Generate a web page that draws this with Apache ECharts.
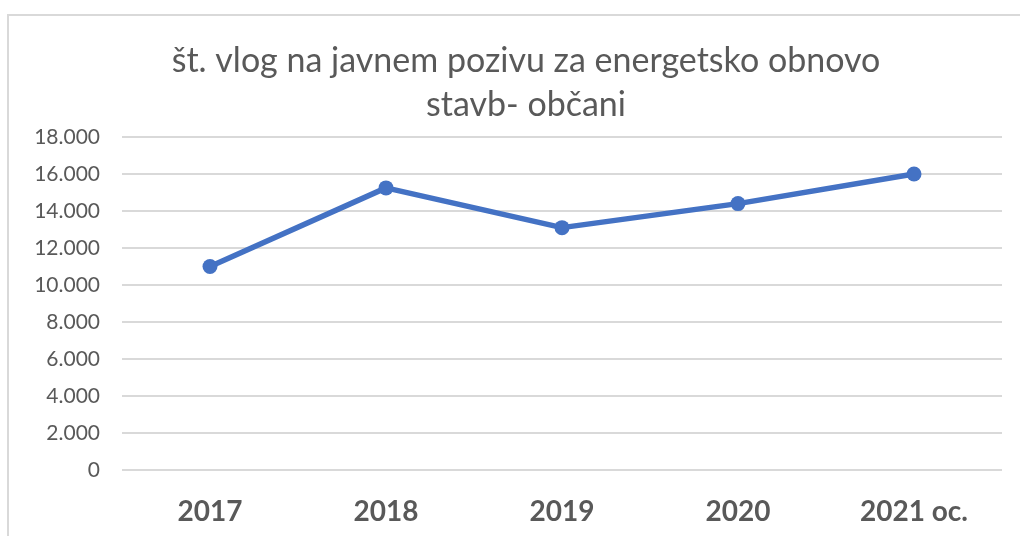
<!DOCTYPE html>
<html>
<head>
<meta charset="utf-8">
<script src="https://cdn.jsdelivr.net/npm/echarts@6/dist/echarts.min.js"></script>
<style>
  html, body { margin: 0; padding: 0; background: #fff; }
  #chart { width: 1020px; height: 536px; }
</style>
</head>
<body>
<div id="chart"></div>
<script>
// podatki
const years = ['2017', '2018', '2019', '2020', '2021 oc.'];
const applications = [11000, 15250, 13100, 14400, 16000];
const titleText = 'št. vlog na javnem pozivu za energetsko obnovo\nstavb- občani';

const font = 'Lato, "Open Sans", sans-serif';
const grey = '#595959';

const chart = echarts.init(document.getElementById('chart'));

chart.setOption({
  backgroundColor: '#fff',
  animation: false,
  title: {
    text: titleText,
    left: 521,
    textAlign: 'center',
    top: 34,
    textStyle: { fontFamily: font, fontSize: 34, fontWeight: 'normal', color: grey, lineHeight: 44 },
  },
  graphic: [{
    type: 'rect',
    shape: { x: 8, y: 15, width: 1100, height: 600 },
    style: { fill: 'none', stroke: '#d9d9d9', lineWidth: 2 },
    silent: true,
  }],
  grid: { left: 122, right: 18, top: 137, bottom: 66 },
  xAxis: {
    type: 'category',
    data: years,
    axisLine: { show: false },
    axisTick: { show: false },
    axisLabel: { fontFamily: font, fontSize: 28, fontWeight: 'bold', color: grey, margin: 28 },
  },
  yAxis: {
    type: 'value',
    min: 0,
    max: 18000,
    interval: 2000,
    axisLine: { show: false },
    axisTick: { show: false },
    splitLine: { lineStyle: { color: '#d9d9d9', width: 2 } },
    axisLabel: {
      fontFamily: font, fontSize: 21, color: grey, margin: 22,
      formatter: (v) => v === 0 ? '0' : v.toLocaleString('de-DE'),
    },
  },
  series: [{
    type: 'line',
    data: applications,
    symbol: 'circle',
    symbolSize: 15,
    lineStyle: { color: '#4472c4', width: 5.5 },
    itemStyle: { color: '#4472c4' },
  }],
});
</script>
</body>
</html>
